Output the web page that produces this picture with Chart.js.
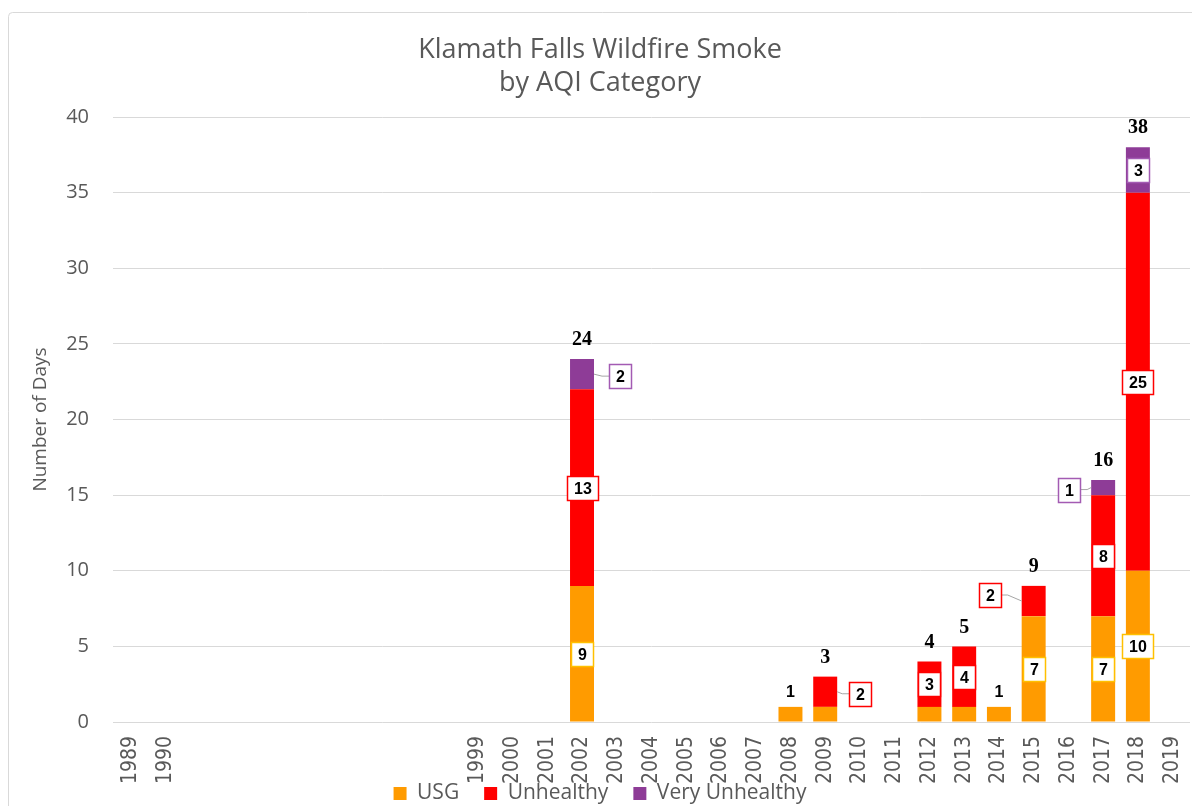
<!DOCTYPE html>
<html>
<head>
<meta charset="utf-8">
<title>Klamath Falls Wildfire Smoke</title>
<script src="https://cdn.jsdelivr.net/npm/chart.js@4.4.1/dist/chart.umd.min.js"></script>
<style>
  html, body { margin: 0; padding: 0; background: #ffffff; }
</style>
</head>
<body>
<canvas id="grafico" width="1192" height="806"></canvas>
<script>
// Categorías del eje X (los huecos son años sin fila en la hoja original)
const anios = ['1989', '1990', '', '', '', '', '', '', '', '', '1999', '2000', '2001', '2002', '2003', '2004', '2005', '2006', '2007', '2008', '2009', '2010', '2011', '2012', '2013', '2014', '2015', '2016', '2017', '2018', '2019'];

// Días por categoría AQI
const usg = [null, null, null, null, null, null, null, null, null, null, null, null, null, 9, null, null, null, null, null, 1, 1, null, null, 1, 1, 1, 7, null, 7, 10, null];
const insalubre = [null, null, null, null, null, null, null, null, null, null, null, null, null, 13, null, null, null, null, null, null, 2, null, null, 3, 4, null, 2, null, 8, 25, null];
const muyInsalubre = [null, null, null, null, null, null, null, null, null, null, null, null, null, 2, null, null, null, null, null, null, null, null, null, null, null, null, null, null, 1, 3, null];

// Totales que aparecen encima de cada barra
const totales = [null, null, null, null, null, null, null, null, null, null, null, null, null, 24, null, null, null, null, null, 1, 3, null, null, 4, 5, 1, 9, null, 16, 38, null];

// Estilos
const colorTexto = '#595959';
const colorRejilla = '#D9D9D9';
const coloresBarras = ['#FF9B00', '#FF0000', '#8E3C97'];
const coloresCajas = ['#FFC000', '#FF0000', '#A35BB3'];

// Etiquetas que van fuera de la barra con línea guía
const llamadas = {
    'Unhealthy': {
        '2009': { lado: 'derecha', sep: 12, dy: 2 },
        '2015': { lado: 'izquierda', sep: 21, dy: -6 },
    },
    'Very Unhealthy': {
        '2002': { lado: 'derecha', sep: 15, dy: 2 },
        '2017': { lado: 'izquierda', sep: 11, dy: 2 },
    },
};
// Totales escritos en sans (barras de un solo segmento)
const totalesSans = ['2008', '2014'];

Chart.defaults.font.family = "'Open Sans', sans-serif";

// Dibuja una caja blanca con borde de color y el número dentro
function dibujarCaja(ctx, texto, cx, cy, borde) {
    ctx.font = "bold 16px 'Liberation Sans', Arial, sans-serif";
    const w = Math.round(ctx.measureText(texto).width + 13);
    const h = 24;
    const x0 = Math.round(cx - w / 2) + 0.5;
    const y0 = Math.round(cy - h / 2) + 0.5;
    ctx.fillStyle = '#ffffff';
    ctx.fillRect(x0, y0, w, h);
    ctx.strokeStyle = borde;
    ctx.lineWidth = 1.5;
    ctx.strokeRect(x0, y0, w, h);
    ctx.fillStyle = '#000000';
    ctx.textAlign = 'center';
    ctx.textBaseline = 'middle';
    ctx.fillText(texto, x0 + w / 2, y0 + h / 2 + 1);
}

// Marco gris claro alrededor del gráfico
const marco = {
    id: 'marco',
    afterLayout(chart) {
        // las etiquetas giradas del eje X pasan por encima de la leyenda: no recortarlas
        chart.scales.x.bottom = chart.height;
    },
    beforeDraw(chart) {
        const ctx = chart.ctx;
        ctx.save();
        ctx.fillStyle = '#ffffff';
        ctx.fillRect(0, 0, chart.width, chart.height);
        ctx.strokeStyle = '#D9D9D9';
        ctx.lineWidth = 1;
        ctx.beginPath();
        ctx.roundRect(8.5, 12.5, 1200, 820, 4);
        ctx.stroke();
        ctx.restore();
    }
};

// Etiquetas de datos y totales
const etiquetasBarras = {
    id: 'etiquetasBarras',
    afterDatasetsDraw(chart) {
        const ctx = chart.ctx;
        const escalaY = chart.scales.y;
        ctx.save();
        chart.data.datasets.forEach((ds, d) => {
            const meta = chart.getDatasetMeta(d);
            meta.data.forEach((barra, i) => {
                const valor = ds.data[i];
                if (valor == null) return;
                const { x, y, base, width } = barra.getProps(['x', 'y', 'base', 'width'], true);
                const medioY = (y + base) / 2;
                const llamada = (llamadas[ds.label] || {})[anios[i]];
                if (llamada) {
                    const texto = String(valor);
                    ctx.font = "bold 16px 'Liberation Sans', Arial, sans-serif";
                    const w = Math.round(ctx.measureText(texto).width + 13);
                    const cy = medioY + llamada.dy;
                    const signo = llamada.lado === 'derecha' ? 1 : -1;
                    const bordeBarra = x + signo * width / 2;
                    const puntoCaja = bordeBarra + signo * llamada.sep;
                    const codo = puntoCaja - signo * 7;
                    ctx.strokeStyle = '#A6A6A6';
                    ctx.lineWidth = 1;
                    ctx.beginPath();
                    ctx.moveTo(bordeBarra, medioY);
                    ctx.lineTo(codo, cy);
                    ctx.lineTo(puntoCaja, cy);
                    ctx.stroke();
                    dibujarCaja(ctx, texto, puntoCaja + signo * w / 2, cy, coloresCajas[d]);
                } else if (base - y >= 26) {
                    dibujarCaja(ctx, String(valor), x, medioY, coloresCajas[d]);
                }
            });
        });

        const meta0 = chart.getDatasetMeta(0);
        totales.forEach((total, i) => {
            if (total == null) return;
            const x = meta0.data[i].x;
            const yTop = escalaY.getPixelForValue(total);
            ctx.fillStyle = '#000000';
            ctx.textAlign = 'center';
            ctx.textBaseline = 'middle';
            if (totalesSans.includes(anios[i])) {
                ctx.font = "bold 16px 'Liberation Sans', Arial, sans-serif";
                ctx.fillText(String(total), x, yTop - 14);
            } else {
                ctx.font = "bold 20px 'Liberation Serif', 'Times New Roman', serif";
                ctx.fillText(String(total), x, yTop - 19);
            }
        });
        ctx.restore();
    }
};

new Chart(document.getElementById('grafico'), {
    type: 'bar',
    data: {
        labels: anios,
        datasets: [
            { label: 'USG', data: usg, backgroundColor: coloresBarras[0] },
            { label: 'Unhealthy', data: insalubre, backgroundColor: coloresBarras[1] },
            { label: 'Very Unhealthy', data: muyInsalubre, backgroundColor: coloresBarras[2] },
        ],
    },
    options: {
        responsive: false,
        animation: false,
        devicePixelRatio: 1,
        datasets: {
            bar: { categoryPercentage: 0.69, barPercentage: 1, borderWidth: 0 }
        },
        layout: { padding: { left: 10, right: 2, top: 0, bottom: 0 } },
        scales: {
            x: {
                stacked: true,
                grid: { display: true, drawOnChartArea: false, drawTicks: true, tickLength: 20, color: 'rgba(0,0,0,0)' },
                border: { display: false },
                ticks: {
                    autoSkip: false,
                    minRotation: 90,
                    maxRotation: 90,
                    padding: -6,
                    color: colorTexto,
                    font: { family: "'Liberation Sans Narrow', 'DejaVu Sans Condensed', sans-serif", size: 21 },
                },
                afterFit(escala) { escala.height = 36; },
            },
            y: {
                stacked: true,
                min: 0,
                max: 40,
                grid: { color: colorRejilla, lineWidth: 1, drawTicks: false },
                border: { display: false },
                ticks: {
                    stepSize: 5,
                    padding: 24,
                    color: colorTexto,
                    font: { family: "'Open Sans', sans-serif", size: 20 },
                },
                title: {
                    display: true,
                    text: 'Number of Days',
                    color: colorTexto,
                    font: { family: "'Open Sans', sans-serif", size: 19 },
                    padding: { top: 19, bottom: 0 },
                },
                afterFit(escala) { escala.width = 103; },
            },
        },
        plugins: {
            title: {
                display: true,
                text: ['Klamath Falls Wildfire Smoke', 'by AQI Category'],
                color: colorTexto,
                font: { family: "'Open Sans', sans-serif", size: 27, weight: 'normal', lineHeight: 1.25 },
                padding: { top: 33, bottom: 16.5 },
            },
            legend: {
                position: 'bottom',
                maxHeight: 48,
                labels: {
                    boxWidth: 13,
                    boxHeight: 13,
                    padding: 25,
                    color: colorTexto,
                    font: { family: "'Open Sans', sans-serif", size: 21 },
                },
            },
            tooltip: { enabled: false },
        },
    },
    plugins: [marco, etiquetasBarras],
});
</script>
</body>
</html>
